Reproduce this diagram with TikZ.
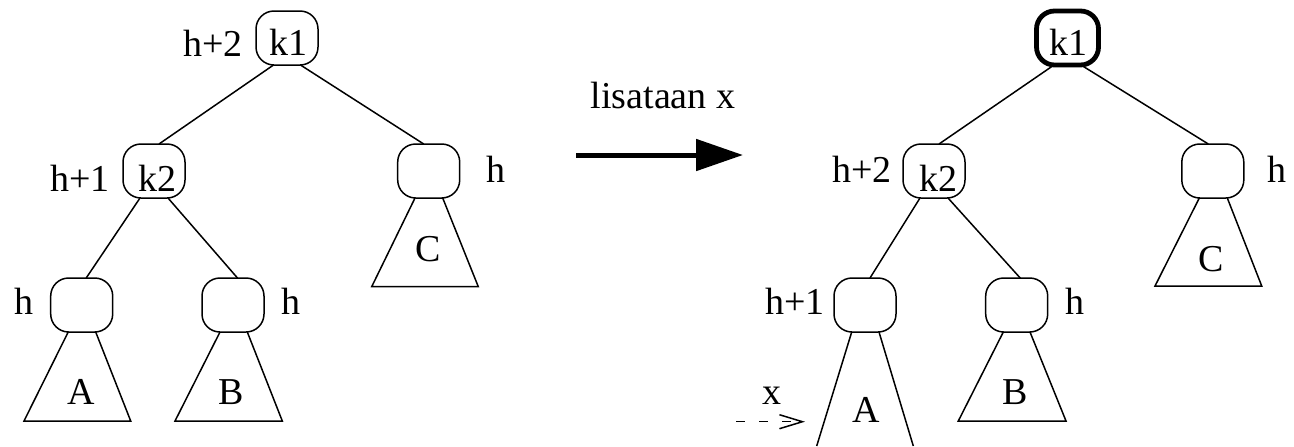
\documentclass[tikz,border=0pt]{standalone}
\usepackage{fontspec}
\setmainfont{Liberation Serif}
\usetikzlibrary{arrows.meta,calc}
\begin{document}
\begin{tikzpicture}[x=0.5pt,y=-0.5pt,
  line width=0.75pt,
  tnode/.style={draw, rounded corners=9pt, minimum width=31pt, minimum height=27pt, inner sep=0pt, outer sep=0pt},
  thicknode/.style={tnode, line width=2.4pt},
  lbl/.style={inner sep=0pt, anchor=base, font=\fontsize{19}{22}\selectfont},
  edge/.style={line width=0.75pt},
  tri/.style={line width=0.75pt, line join=miter},
]
\useasboundingbox (0,0) rectangle (1294,446);

% ---------- left tree ----------
\node[tnode] (k1L) at (287,38) {};
\node[tnode] (k2L) at (154,171) {};
\node[tnode] (cL) at (428.7,171) {};
\node[tnode] (aL) at (81.7,305) {};
\node[tnode] (bL) at (233,305) {};

\draw[edge] ($(k1L.south)+(-13.5,0)$) -- ($(k2L.north)+(5,0)$);
\draw[edge] ($(k1L.south)+(13.5,0)$) -- ($(cL.north)+(-5,0)$);
\draw[edge] ($(k2L.south)+(-14,0)$) -- ($(aL.north)+(4.5,0)$);
\draw[edge] ($(k2L.south)+(14,0)$) -- ($(bL.north)+(4.5,0)$);

\draw[tri] ($(aL.south)+(-13.5,0)$) -- (24,421) -- (130.7,421) -- ($(aL.south)+(14,0)$);
\draw[tri] ($(bL.south)+(-13,0)$) -- (175,421) -- (282.3,421) -- ($(bL.south)+(14.3,0)$);
\draw[tri] ($(cL.south)+(-13.7,0)$) -- (371.7,286.7) -- (478.3,286.7) -- ($(cL.south)+(14,0)$);

\node[lbl] (tk1L) at (288.5,55) {k1};
\node[lbl] (tk2L) at (157.5,191) {k2};
\node[lbl] (hk1L) at (213,56) {h+2};
\node[lbl] (hk2L) at (80,191) {h+1};
\node[lbl] (hcL) at (496,182) {h};
\node[lbl] (haL) at (24,314) {h};
\node[lbl] (hbL) at (290.7,314) {h};
\node[lbl] (taL) at (81.7,404) {A};
\node[lbl] (tbL) at (231,404) {B};
\node[lbl] (tcL) at (427.7,261) {C};

% ---------- arrow ----------
\coordinate (arrS) at (576,155);
\coordinate (arrE) at (743,155);
\draw[line width=2.5pt, -{Triangle[length=23.5pt,width=15.5pt]}] (arrS) -- (arrE);
\node[lbl] (arrL) at (663,108) {lisataan x};

% ---------- right tree ----------
\node[thicknode] (k1R) at (1067.5,38) {};
\node[tnode] (k2R) at (934,171) {};
\node[tnode] (cR) at (1212.8,171) {};
\node[tnode] (aR) at (865,305) {};
\node[tnode] (bR) at (1016.7,305) {};

\draw[edge] ($(k1R.south)+(-13.5,0)$) -- ($(k2R.north)+(5,0)$);
\draw[edge] ($(k1R.south)+(13.5,0)$) -- ($(cR.north)+(-4.5,0)$);
\draw[edge] ($(k2R.south)+(-14,0)$) -- ($(aR.north)+(5,0)$);
\draw[edge] ($(k2R.south)+(14,0)$) -- ($(bR.north)+(3.5,0)$);

\draw[tri] ($(aR.south)+(-13.3,0)$) -- (816.7,446);
\draw[tri] ($(aR.south)+(14,0)$) -- (913.3,446);
\draw[tri] ($(bR.south)+(-13.4,0)$) -- (958.3,421) -- (1066,421) -- ($(bR.south)+(13.3,0)$);
\draw[tri] ($(cR.south)+(-13.5,0)$) -- (1155,286) -- (1261.7,286) -- ($(cR.south)+(14.5,0)$);

\node[lbl] (tk1R) at (1068.5,55) {k1};
\node[lbl] (tk2R) at (938.5,191) {k2};
\node[lbl] (hk2R) at (862,182) {h+2};
\node[lbl] (hcR) at (1277,182) {h};
\node[lbl] (haR) at (795,314) {h+1};
\node[lbl] (hbR) at (1075,314) {h};
\node[lbl] (taR) at (866.7,422) {A};
\node[lbl] (tbR) at (1015,404) {B};
\node[lbl] (tcR) at (1211,271) {C};

\coordinate (xS) at (736,421.7);
\coordinate (xE) at (805,421.7);
\draw[line width=0.75pt, dash pattern=on 4.5pt off 7pt, -{Straight Barb[length=11.5pt,width=7pt]}] (xS) -- (xE);
\node[lbl] (tx) at (771.7,404) {x};
\end{tikzpicture}
\end{document}
